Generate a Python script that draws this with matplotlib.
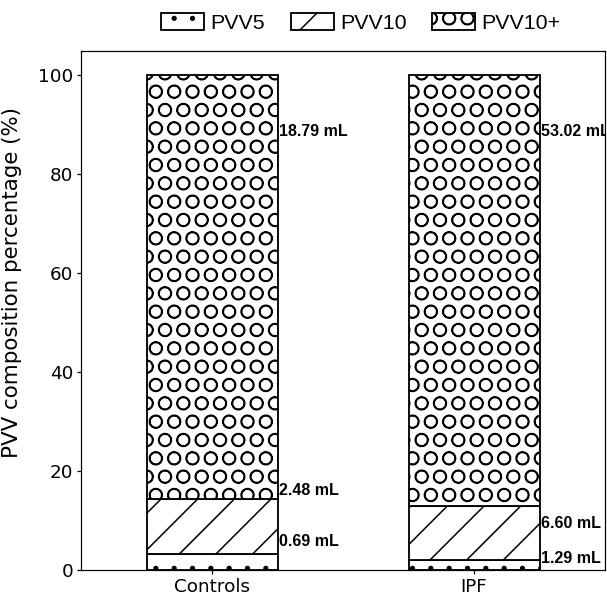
import matplotlib.pyplot as plt
import numpy as np

groups = ['Controls', 'IPF']
pvv5_ml = [0.69, 1.29]
pvv10_ml = [2.48, 6.60]
pvv10p_ml = [18.79, 53.02]
# where the volume labels sit (y in %)
label_y5 = [5.7, 2.4]
label_y10 = [16.0, 9.3]
label_y10p = [88.7, 88.7]

DPI = 110
fig = plt.figure(figsize=(607 / DPI, 596 / DPI), dpi=DPI)
ax = fig.add_axes([81 / 607, 1 - 570 / 596, (605 - 81) / 607, (570 - 50.5) / 596])

tot = np.array(pvv5_ml) + np.array(pvv10_ml) + np.array(pvv10p_ml)
p5 = np.array(pvv5_ml) / tot * 100
p10 = np.array(pvv10_ml) / tot * 100
p10p = np.array(pvv10p_ml) / tot * 100

x = np.arange(len(groups))
w = 0.5
kw = dict(width=w, color='white', edgecolor='black', linewidth=1.2)
ax.bar(x, p5, hatch='.', label='PVV5', **kw)
ax.bar(x, p10, bottom=p5, hatch='/', label='PVV10', **kw)
ax.bar(x, p10p, bottom=p5 + p10, hatch='O', label='PVV10+', **kw)

# the labels are clipped at the right spine, as in the original
tfont = dict(family=['Liberation Sans', 'DejaVu Sans'], fontsize=10.5, fontweight='bold',
             va='center', ha='left', clip_on=True)
for i in range(len(groups)):
    xt = x[i] + w / 2 + 0.006
    ax.text(xt, label_y5[i], f'{pvv5_ml[i]:.2f} mL', **tfont)
    ax.text(xt, label_y10[i], f'{pvv10_ml[i]:.2f} mL', **tfont)
    ax.text(xt, label_y10p[i], f'{pvv10p_ml[i]:.2f} mL', **tfont)

ax.set_xlim(-0.5, 1.5)
ax.set_ylim(0, 105)
ax.set_xticks(x)
ax.set_xticklabels(groups, fontsize=12)
ax.set_yticks(range(0, 101, 20))
ax.tick_params(axis='both', labelsize=12, length=2.5, pad=2.5)
ax.set_ylabel('PVV composition percentage (%)', fontsize=14)
ax.yaxis.set_label_coords(-0.113, 0.554)

leg = fig.legend(loc='center', bbox_to_anchor=(361 / 607, 1 - 23 / 596), ncol=3, frameon=False,
                 prop={'family': 'Liberation Sans', 'size': 14}, handlelength=2.0, handleheight=0.8,
                 columnspacing=1.2, handletextpad=0.3)

fig.savefig('out.png', dpi=DPI)
